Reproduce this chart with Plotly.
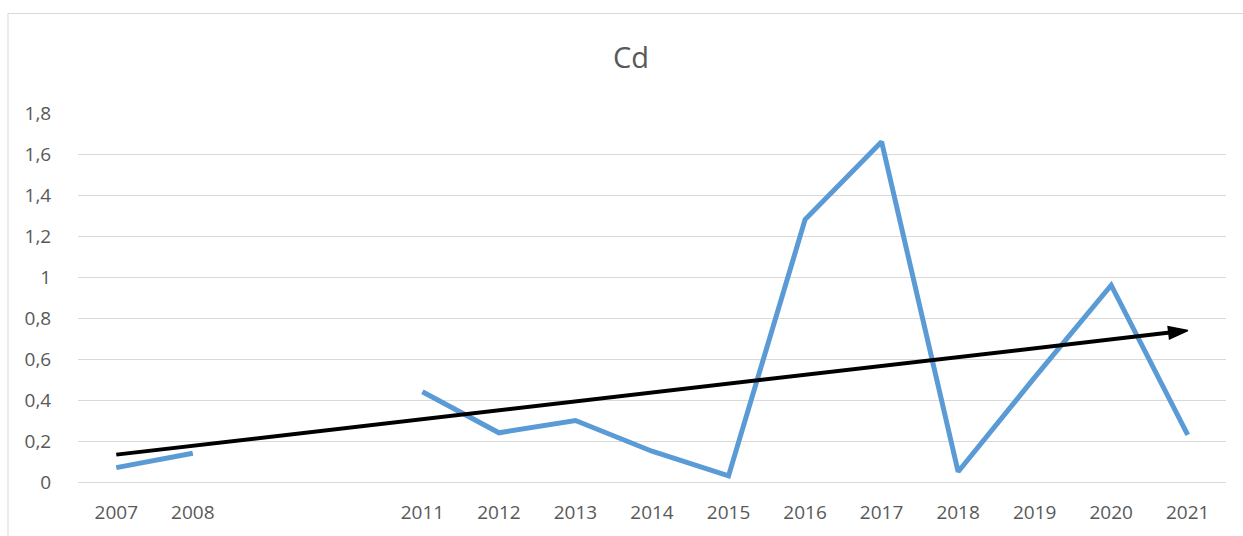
import numpy as np
import plotly.graph_objects as go

# Cd concentrations by year (no measurements for 2009 and 2010)
years = [2007, 2008, 2009, 2010, 2011, 2012, 2013, 2014, 2015, 2016, 2017, 2018, 2019, 2020, 2021]
cd_values = [0.07, 0.14, None, None, 0.44, 0.24, 0.30, 0.15, 0.03, 1.28, 1.66, 0.05, 0.51, 0.96, 0.23]
year_labels = ["2007", "2008", "", "", "2011", "2012", "2013", "2014", "2015",
               "2016", "2017", "2018", "2019", "2020", "2021"]
y_ticks = [0, 0.2, 0.4, 0.6, 0.8, 1.0, 1.2, 1.4, 1.6, 1.8]

# Linear trend fitted over the measured years
xs = np.array([x for x, v in zip(years, cd_values) if v is not None], dtype=float)
ys = np.array([v for v in cd_values if v is not None], dtype=float)
slope, intercept = np.polyfit(xs, ys, 1)
trend_x = [years[0], years[-1]]
trend_y = [slope * x + intercept for x in trend_x]

W, H = 1243, 536
ML, MR, MT, MB = 78, 17, 113, 54
plot_w = W - ML - MR
plot_h = H - MT - MB

fig = go.Figure()
fig.add_trace(go.Scatter(
    x=years, y=cd_values, mode="lines",
    line=dict(color="#5B9BD5", width=5),
    connectgaps=False, hoverinfo="skip", showlegend=False,
))
fig.add_trace(go.Scatter(
    x=trend_x, y=trend_y, mode="lines+markers",
    line=dict(color="#000000", width=4),
    marker=dict(symbol="arrow", size=[0, 20], angleref="previous", color="#000000",
                opacity=1, line=dict(width=1.5, color="#000000")),
    hoverinfo="skip", showlegend=False,
))

# Chart frame
fig.add_shape(
    type="rect", xref="paper", yref="paper",
    x0=(8 - ML) / plot_w, x1=(W + 5 - ML) / plot_w,
    y0=-(MB + 5) / plot_h, y1=(H - MB - 13.5) / plot_h,
    line=dict(color="#D9D9D9", width=1), fillcolor="rgba(0,0,0,0)", layer="below",
)

fig.update_layout(
    width=W, height=H,
    margin=dict(l=ML, r=MR, t=MT, b=MB, autoexpand=False),
    paper_bgcolor="white", plot_bgcolor="white",
    separators=", ",
    font=dict(family="Open Sans, Liberation Sans, sans-serif", color="#595959", size=19),
    title=dict(text="Cd", x=631 / W, xanchor="center", y=1 - 58 / H, yanchor="middle",
               font=dict(size=29, color="#595959")),
    xaxis=dict(
        range=[2006.5, 2021.5], tickmode="array", tickvals=years, ticktext=year_labels,
        showgrid=False, zeroline=False, showline=False, automargin=False,
        ticks="outside", ticklen=13, tickcolor="rgba(0,0,0,0)",
        tickfont=dict(size=19, color="#595959"), fixedrange=True,
    ),
    yaxis=dict(
        range=[0, 1.8], tickmode="array", tickvals=y_ticks, automargin=False,
        showgrid=True, gridcolor="#D9D9D9", gridwidth=1,
        zeroline=True, zerolinecolor="#D9D9D9", zerolinewidth=1, showline=False,
        ticks="outside", ticklen=22, tickcolor="rgba(0,0,0,0)",
        tickfont=dict(size=19, color="#595959"), fixedrange=True,
    ),
)

fig.write_html("out.html")
